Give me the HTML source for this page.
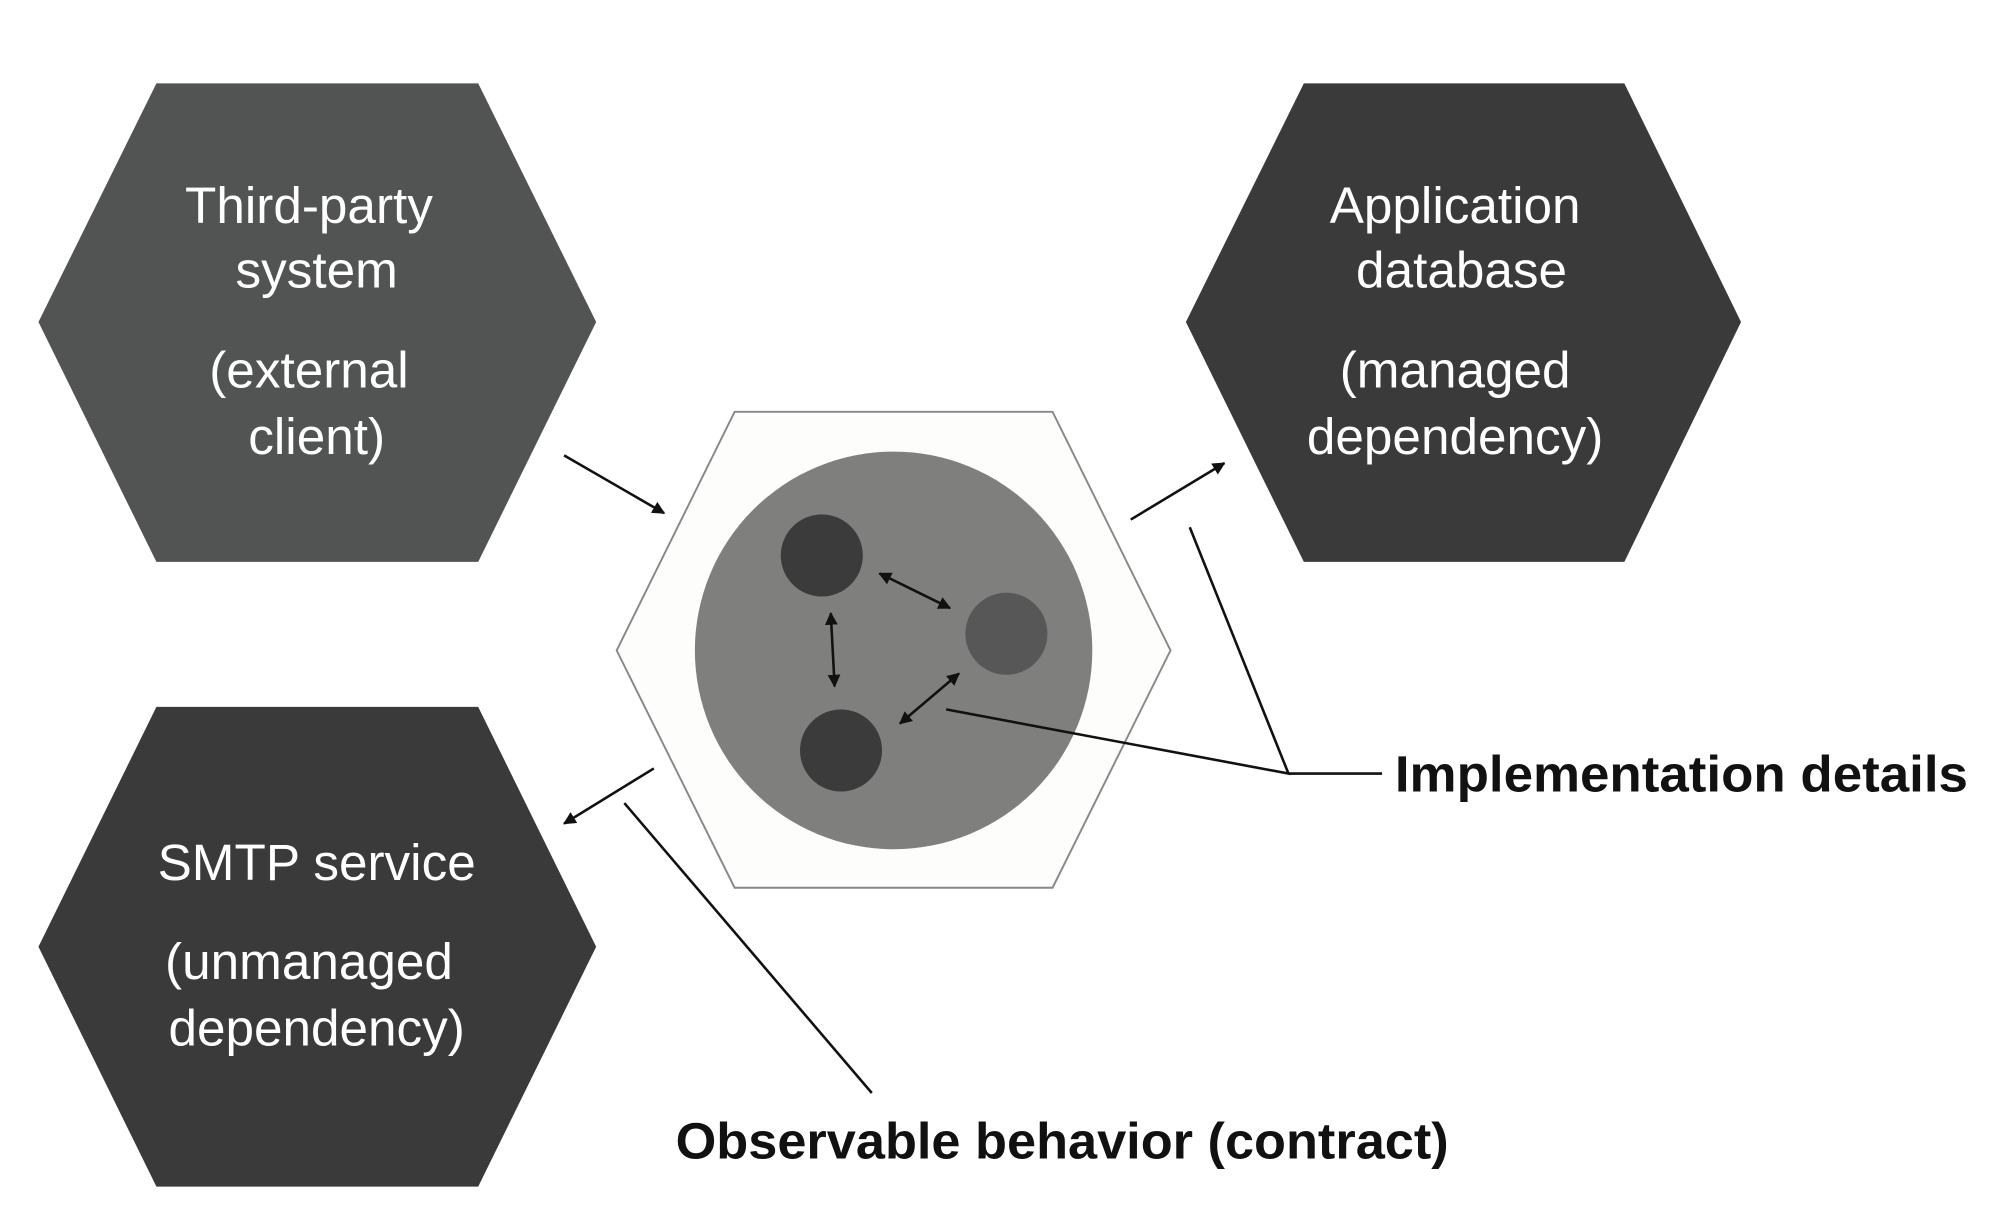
<!DOCTYPE html>
<html><head><meta charset="utf-8"><style>
html,body{margin:0;padding:0;background:#fff;}
svg{display:block;}
</style></head><body>
<svg width="2000" height="1220" viewBox="0 0 1560 951" preserveAspectRatio="none" xmlns="http://www.w3.org/2000/svg">
<defs>
<marker id="ah" viewBox="0 0 10 10" refX="9" refY="5" markerWidth="5" markerHeight="5" orient="auto-start-reverse"><path d="M0,0 L10,5 L0,10 z" fill="#111"/></marker>
</defs>
<rect width="1560" height="951" fill="#fff"/>
<polygon points="30,251 122,65 373,65 465,251 373,438 122,438" fill="#525453"/>
<polygon points="925,251 1017,65 1267,65 1358,251 1267,438 1017,438" fill="#3a3a3a"/>
<polygon points="30,738 122,551 373,551 465,738 373,925 122,925" fill="#3a3a3a"/>
<polygon points="481,507 573,321 821,321 913,507 821,692 573,692" fill="#fdfdfb" stroke="#888" stroke-width="1.5"/>
<circle cx="697" cy="507" r="155" fill="#7f807e"/>
<circle cx="641" cy="433" r="32" fill="#3b3b3b"/>
<circle cx="785" cy="494" r="32" fill="#575757"/>
<circle cx="656" cy="585" r="32" fill="#3b3b3b"/>
<g stroke="#111" stroke-width="2" fill="none">
<line x1="686" y1="447" x2="741" y2="474" marker-start="url(#ah)" marker-end="url(#ah)"/>
<line x1="648" y1="478" x2="651" y2="535" marker-start="url(#ah)" marker-end="url(#ah)"/>
<line x1="702" y1="564" x2="748" y2="525" marker-start="url(#ah)" marker-end="url(#ah)"/>
<line x1="440" y1="355" x2="518" y2="400" marker-end="url(#ah)"/>
<line x1="882" y1="405" x2="955" y2="361" marker-end="url(#ah)"/>
<line x1="510" y1="599" x2="440" y2="642" marker-end="url(#ah)"/>
<polyline points="738,553 1005,603 928,411"/>
<line x1="1005" y1="603" x2="1078" y2="603"/>
<line x1="487" y1="626" x2="680" y2="852"/>
</g>
<g fill="#fff" font-family="Liberation Sans, sans-serif" font-size="40" text-anchor="middle">
<text x="241" y="174">Third-party</text>
<text x="247" y="224">system</text>
<text x="241" y="302">(external</text>
<text x="247" y="354">client)</text>
<text x="1135" y="174">Application</text>
<text x="1140" y="224">database</text>
<text x="1135" y="302">(managed</text>
<text x="1135" y="354">dependency)</text>
<text x="247" y="686">SMTP service</text>
<text x="241" y="763">(unmanaged</text>
<text x="247" y="815">dependency)</text>
</g>
<g fill="#111" font-family="Liberation Sans, sans-serif" font-size="40" font-weight="bold">
<text x="1088" y="617" textLength="447" lengthAdjust="spacingAndGlyphs">Implementation details</text>
<text x="527" y="903" textLength="603" lengthAdjust="spacingAndGlyphs">Observable behavior (contract)</text>
</g>
</svg>
</body></html>
